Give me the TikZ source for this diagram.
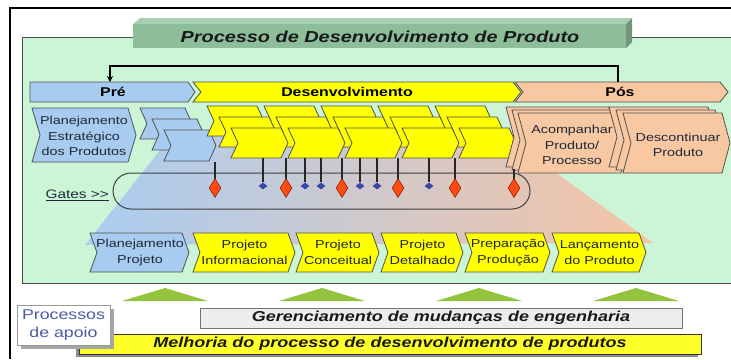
\documentclass[tikz,border=0pt]{standalone}
\usepackage{fontspec}
\setmainfont{Liberation Sans}[FakeStretch=1.25]
\usetikzlibrary{shapes.geometric,arrows.meta}

\definecolor{panelgreen}{HTML}{CCF5D7}
\definecolor{titlegreen}{HTML}{8DBE99}
\definecolor{preblue}{HTML}{A7CCF0}
\definecolor{devyellow}{HTML}{FFFF00}
\definecolor{posorange}{HTML}{F8C8A2}
\definecolor{gatered}{HTML}{FF4A12}
\definecolor{gateblue}{HTML}{3A45A8}
\definecolor{edgegray}{HTML}{505050}
\definecolor{labeltext}{HTML}{202838}
\definecolor{gradblue}{HTML}{A9CDF3}
\definecolor{gradmid}{HTML}{CCC6E2}
\definecolor{gradsalmon}{HTML}{F6C4A4}
\definecolor{trigreen}{HTML}{94C43E}
\definecolor{gerencgray}{HTML}{EDEDED}
\definecolor{melyellow}{HTML}{FFFF2A}
\definecolor{apoiotext}{HTML}{4A5AA5}

\newcommand{\chev}[6]{\filldraw[chevline, fill=#1] ({#2},{#3}) -- ({#4},{#3}) -- ({#4+#6},{(#3+#5)/2}) -- ({#4},{#5}) -- ({#2},{#5}) -- ({#2+#6},{(#3+#5)/2}) -- cycle;}

\begin{document}
\begin{tikzpicture}[x=1pt, y=-1pt,
  chevline/.style={draw=edgegray, line width=0.8pt},
  panelline/.style={draw=black!70, line width=1pt},
  lbl/.style={font=\fontsize{11.5}{15.5}\selectfont, text=labeltext, align=center, inner sep=0pt},
  phase/.style={font=\bfseries\fontsize{12.7}{15}\selectfont, inner sep=0pt},
  bigtxt/.style={font=\bfseries\itshape\fontsize{14.4}{16}\selectfont, text=black!90, inner sep=0pt},
  reddia/.style={diamond, fill=gatered, draw=gatered!55!black, line width=0.6pt, minimum width=12pt, minimum height=19pt, inner sep=0pt},
  bluedia/.style={diamond, fill=gateblue, minimum width=9pt, minimum height=7pt, inner sep=0pt},
  gateline/.style={draw=black!85, line width=1.2pt}]

\useasboundingbox (0,0) rectangle (731,359);
\fill[white] (0,0) rectangle (731,359);

\draw[line width=1.6pt] (10,359) -- (10,8) -- (731,8);
\fill[panelgreen] (22,37) rectangle (731,283);
\draw[panelline] (133,37) -- (22,37) -- (22,283) -- (731,283);
\draw[panelline] (632,37) -- (731,37);

\fill[titlegreen!75!white] (133,24) -- (140,18) -- (632,18) -- (626,24) -- cycle;
\fill[titlegreen!80!black] (626,24) -- (632,18) -- (632,42) -- (626,48) -- cycle;
\fill[titlegreen] (133,24) rectangle (626,48);
\node[bigtxt, font=\bfseries\itshape\fontsize{15.9}{18}\selectfont] (titulo) at (380,37) {Processo de Desenvolvimento de Produto};

\shade[left color=gradblue, middle color=gradmid, right color=gradsalmon] (176,130) -- (497,130) -- (653,243) -- (85,245) -- cycle;

\filldraw[chevline, fill=preblue] (30,82) -- (188,82) -- (195,92) -- (188,102) -- (30,102) -- cycle;
\chev{devyellow}{193}{82}{513}{102}{8}
\chev{posorange}{515}{82}{720}{102}{8}
\node[phase] (pre) at (113,92) {Pré};
\node[phase] (desenv) at (347,92) {Desenvolvimento};
\node[phase] (pos) at (620,92) {Pós};

\coordinate (fbfrom) at (618,82);
\coordinate (fbto) at (110,82);
\draw[line width=1.2pt, -{Stealth[length=6pt,width=6pt]}] (fbfrom) -- ++(0,-16) -| (fbto);

\chev{preblue}{32}{108}{128}{162}{8}
\node[lbl] (planest) at (84,136) {Planejamento\\Estratégico\\dos Produtos};

\foreach \r in {0,1,2}
   {\chev{preblue}{140+12*\r}{108+11*\r}{185+12*\r}{139+11*\r}{7}}

\foreach \r in {0,1,2}
   \foreach \g in {0,...,4}
      {\chev{devyellow}{207+57*\g+12*\r}{106+11*\r}{257+57*\g+12*\r}{136+11*\r}{7}}

\foreach \r in {0,1,2}
   {\chev{posorange}{506+6*\r}{107+3*\r}{609+6*\r}{167+3*\r}{8}}
\foreach \r in {0,1,2}
   {\chev{posorange}{609+7*\r}{107+3*\r}{708+7*\r}{167+3*\r}{8}}
\node[lbl] (acomp) at (572,145) {Acompanhar\\Produto/\\Processo};
\node[lbl] (descont) at (678,145) {Descontinuar\\Produto};

\draw[draw=black!75, line width=1pt, rounded corners=18pt] (113,173) rectangle (530,209);
\node[lbl, font=\fontsize{12.3}{15}\selectfont, anchor=east] (gates) at (109,195) {\underline{Gates >{}>}};

\foreach \i/\x/\t in {1/215/162, 2/286/158, 3/342/158, 4/398/158, 5/455/158, 6/514/169} {
   \coordinate (rt\i) at (\x,\t);
   \draw[gateline] (rt\i) -- (\x,186);
   \node[reddia] (r\i) at (\x,188) {};
}
\foreach \i/\x in {1/263, 2/305, 3/321, 4/360, 5/377, 6/429} {
   \coordinate (bt\i) at (\x,158);
   \node[bluedia] (b\i) at (\x,186) {};
   \draw[gateline] (bt\i) -- (b\i.north);
}

\foreach \xl/\xr/\c/\n/\t in {
    90/182/preblue/planproj/{Planejamento\\Projeto},
    193/288/devyellow/projinf/{Projeto\\Informacional},
    296/372/devyellow/projconc/{Projeto\\Conceitual},
    381/456/devyellow/projdet/{Projeto\\Detalhado},
    465/543/devyellow/prepprod/{Preparação\\Produção},
    552/639/devyellow/lancprod/{Lançamento\\do Produto}} {
   \chev{\c}{\xl}{233}{\xr}{272}{7}
   \node[lbl] (\n) at ({(\xl+\xr)/2+4},252.5) {\t};
}

\foreach \x in {165,322,479,636}
   \fill[trigreen] ({\x-43},301) -- (\x,288) -- ({\x+43},301) -- cycle;

\filldraw[fill=gerencgray, draw=black!55, line width=1pt] (200,308) rectangle (682,328);
\node[bigtxt] (gerenc) at (441,318) {Gerenciamento de mudanças de engenharia};

\fill[black!45] (76,337) rectangle (698,357);
\filldraw[fill=melyellow, draw=black!80, line width=1pt] (79,334) rectangle (701,354);
\node[bigtxt] (melhoria) at (390,344) {Melhoria do processo de desenvolvimento de produtos};

\fill[black!35] (21,309) rectangle (114,349);
\filldraw[fill=white, draw=black!40, line width=0.8pt] (17,305) rectangle (110,345);
\node[align=center, text=apoiotext, font=\fontsize{14.2}{18}\selectfont, inner sep=0pt] (apoio) at (63.5,325) {Processos\\de apoio};

\end{tikzpicture}
\end{document}
